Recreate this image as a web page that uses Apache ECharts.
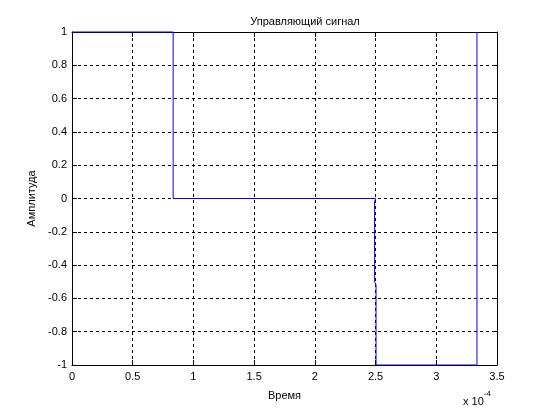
<!DOCTYPE html>
<html><head><meta charset="utf-8">
<script src="https://cdn.jsdelivr.net/npm/echarts@6/dist/echarts.min.js"></script>
<style>html,body{margin:0;padding:0;background:#fff}#c{width:549px;height:412px}</style>
</head><body><div id="c"></div>
<script>
// time in units of 1e-4 s
var timeValues = [0, 0.833, 0.833, 2.5, 2.492, 2.492, 2.504, 2.504, 3.335, 3.335];
var signalValues = [1, 1, 0, 0, -0.02, -0.5, -0.52, -1, -1, 1];
var xTicks = [0, 0.5, 1, 1.5, 2, 2.5, 3, 3.5];
var yTicks = [-1, -0.8, -0.6, -0.4, -0.2, 0, 0.2, 0.4, 0.6, 0.8, 1];
var titleText = 'Управляющий сигнал';
var xName = 'Время';
var yName = 'Амплитуда';

var data = timeValues.map(function(t, i){ return [t, signalValues[i]]; });
var font = 'Liberation Sans, Arial, sans-serif';
var gridLine = {show: true, lineStyle: {color: '#000', type: [3, 3], width: 1}};
function fmt(v){ return String(Math.round(v*10)/10); }

var chart = echarts.init(document.getElementById('c'), null, {renderer: 'canvas'});
chart.setOption({
  animation: false,
  backgroundColor: '#fff',
  title: {text: titleText, left: 300, top: 11, textAlign: 'center',
    textStyle: {fontFamily: font, fontSize: 11, fontWeight: 'normal', color: '#000'}},
  grid: {left: 72, right: 52, top: 32, bottom: 47, show: false},
  xAxis: [{
    type: 'value', min: xTicks[0], max: xTicks[xTicks.length-1], interval: 0.5, position: 'bottom',
    axisLine: {show: true, onZero: false, lineStyle: {color: '#000'}},
    axisTick: {show: true, inside: true, length: 5, lineStyle: {color: '#000'}},
    axisLabel: {fontFamily: font, fontSize: 11, color: '#000', margin: 6, formatter: fmt},
    splitLine: gridLine,
    name: xName, nameLocation: 'middle', nameGap: 25,
    nameTextStyle: {fontFamily: font, fontSize: 11, color: '#000'}
  }, {
    type: 'value', min: 0, max: 3.5, interval: 0.5, position: 'top',
    axisLine: {show: true, onZero: false, lineStyle: {color: '#000'}},
    axisTick: {show: true, inside: true, length: 5, lineStyle: {color: '#000'}},
    axisLabel: {show: false}, splitLine: {show: false}
  }],
  yAxis: [{
    type: 'value', min: yTicks[0], max: yTicks[yTicks.length-1], interval: 0.2, position: 'left',
    axisLine: {show: true, onZero: false, lineStyle: {color: '#000'}},
    axisTick: {show: true, inside: true, length: 5, lineStyle: {color: '#000'}},
    axisLabel: {fontFamily: font, fontSize: 11, color: '#000', margin: 5, formatter: fmt},
    splitLine: gridLine,
    name: yName, nameLocation: 'middle', nameGap: 34, nameRotate: 90,
    nameTextStyle: {fontFamily: font, fontSize: 11, color: '#000'}
  }, {
    type: 'value', min: -1, max: 1, interval: 0.2, position: 'right',
    axisLine: {show: true, onZero: false, lineStyle: {color: '#000'}},
    axisTick: {show: true, inside: true, length: 5, lineStyle: {color: '#000'}},
    axisLabel: {show: false}, splitLine: {show: false}
  }],
  graphic: [{
    type: 'text', left: 463, top: 390,
    style: {text: '{a|x 10}{b|-4}', rich: {
      a: {fontFamily: font, fontSize: 11, color: '#000', padding: [6, 0, 0, 0]},
      b: {fontFamily: font, fontSize: 8, color: '#000', verticalAlign: 'top'}
    }}
  }],
  series: [{
    type: 'line', data: data, xAxisIndex: 0, yAxisIndex: 0, z: 10,
    showSymbol: false, symbol: 'none', clip: false,
    lineStyle: {color: '#0000ff', width: 1}
  }]
});
</script></body></html>
